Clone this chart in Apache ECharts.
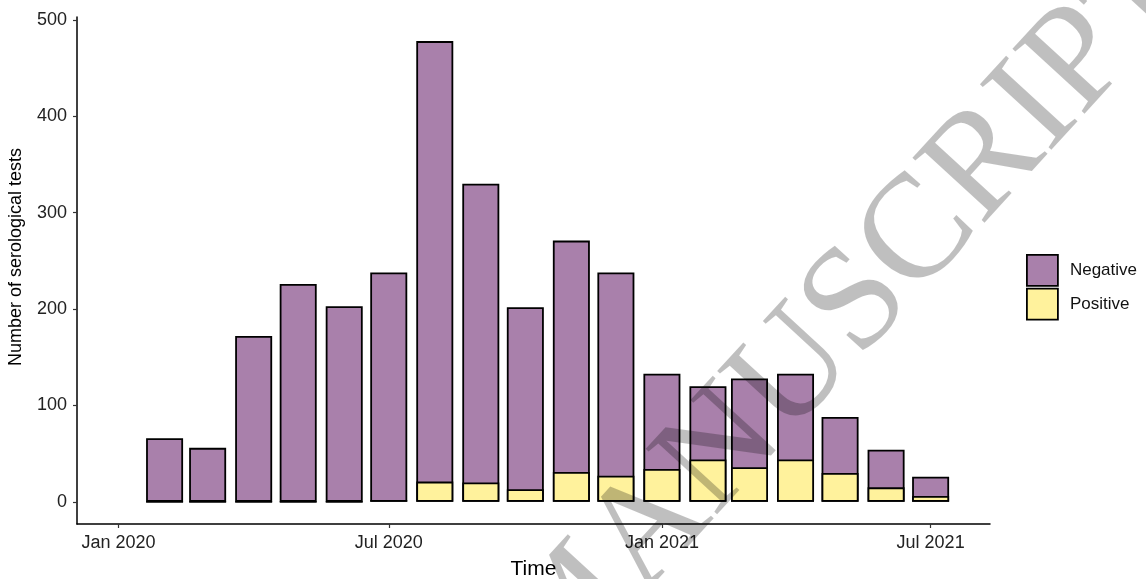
<!DOCTYPE html>
<html>
<head>
<meta charset="utf-8">
<script src="https://cdn.jsdelivr.net/npm/echarts@6/dist/echarts.min.js"></script>
<style>
  html, body { margin: 0; padding: 0; background: #fff; }
  #chart { width: 1146px; height: 579px; }
</style>
</head>
<body>
<div id="chart"></div>
<script>
// monthly bars, Feb 2020 .. Jul 2021
const months = ['2020-02', '2020-03', '2020-04', '2020-05', '2020-06', '2020-07',
  '2020-08', '2020-09', '2020-10', '2020-11', '2020-12', '2021-01',
  '2021-02', '2021-03', '2021-04', '2021-05', '2021-06', '2021-07'];
const negative = [66, 56, 172, 226, 203, 236, 457, 310, 189, 240, 211, 99, 76, 92, 89, 58, 39, 20];
const positive = [0, 0, 0, 0, 0, 2, 21, 20, 13, 31, 27, 34, 44, 36, 44, 30, 15, 6];

const tickDates = ['2020-01', '2020-07', '2021-01', '2021-07'];
const tickLabels = ['Jan 2020', 'Jul 2020', 'Jan 2021', 'Jul 2021'];
const yTicks = [0, 100, 200, 300, 400, 500];

const toTime = (s) => {
  const p = s.split('-').map(Number);
  return Date.UTC(p[0], p[1] - 1, p[2] || 1);
};

const font = 'Liberation Sans, Arial, Helvetica, sans-serif';
const chart = echarts.init(document.getElementById('chart'));

const tickTimes = tickDates.map(toTime);

// negative sits on top of positive: draw the full column, then positive over its base
const totals = negative.map((v, i) => v + positive[i]);

const option = {
  animation: false,
  backgroundColor: '#fff',
  grid: { left: 77, right: 156, top: 17, bottom: 55, containLabel: false, outerBoundsMode: 'none' },
  legend: {
    data: ['Negative', 'Positive'],
    orient: 'vertical',
    left: 1026,
    top: 254,
    padding: 0,
    itemWidth: 31,
    itemHeight: 31,
    itemGap: 1,
    icon: 'rect',
    selectedMode: false,
    itemStyle: { borderColor: '#000', borderWidth: 1.8 },
    textStyle: { fontFamily: font, fontSize: 17, color: '#111', padding: [0, 0, 0, 7] }
  },
  xAxis: {
    type: 'value',
    min: toTime('2019-12-04'),
    max: toTime('2021-08-10'),
    name: 'Time',
    nameLocation: 'middle',
    nameGap: 35,
    nameTextStyle: { fontFamily: font, fontSize: 21, color: '#000' },
    axisLine: { show: true, onZero: false, lineStyle: { color: '#000', width: 1.5 } },
    axisTick: { show: true, length: 4, lineStyle: { color: '#333', width: 1.2 }, customValues: tickTimes },
    axisLabel: {
      fontFamily: font, fontSize: 18, color: '#222', margin: 10,
      customValues: tickTimes,
      formatter: (v) => {
        const i = tickTimes.indexOf(v);
        return i >= 0 ? tickLabels[i] : '';
      }
    },
    splitLine: { show: false }
  },
  yAxis: {
    type: 'value',
    min: -23,
    max: 503,
    name: 'Number of serological tests',
    nameLocation: 'middle',
    nameGap: 52,
    nameRotate: 90,
    nameTextStyle: { fontFamily: font, fontSize: 18, color: '#000', padding: [0, 0, 0, 27] },
    axisLine: { show: true, onZero: false, lineStyle: { color: '#000', width: 1.5 } },
    axisTick: { show: true, length: 4, lineStyle: { color: '#333', width: 1.2 }, customValues: yTicks },
    axisLabel: { fontFamily: font, fontSize: 18, color: '#222', margin: 10, customValues: yTicks },
    splitLine: { show: false }
  },
  series: [
    {
      name: 'Negative',
      type: 'bar',
      barWidth: 37,
      barGap: '-100%',
      data: months.map((m, i) => [toTime(m), totals[i]]),
      itemStyle: { color: '#A980AB', borderColor: '#000', borderWidth: 1.8 }
    },
    {
      name: 'Positive',
      type: 'bar',
      barWidth: 37,
      barGap: '-100%',
      data: months.map((m, i) => [toTime(m), positive[i]]),
      itemStyle: { color: '#FFF29C', borderColor: '#000', borderWidth: 1.8 }
    }
  ],
  graphic: [
    {
      type: 'text',
      x: 576,
      y: 611,
      rotation: 47.5 * Math.PI / 180,
      z: 100,
      silent: true,
      style: {
        text: 'ACCEPTED MANUSCRIPT',
        fontFamily: 'Liberation Serif, Times New Roman, serif',
        fontSize: 148,
        fill: 'rgba(0,0,0,0.25)',
        align: 'center',
        verticalAlign: 'middle'
      }
    }
  ]
};

chart.setOption(option);
</script>
</body>
</html>
